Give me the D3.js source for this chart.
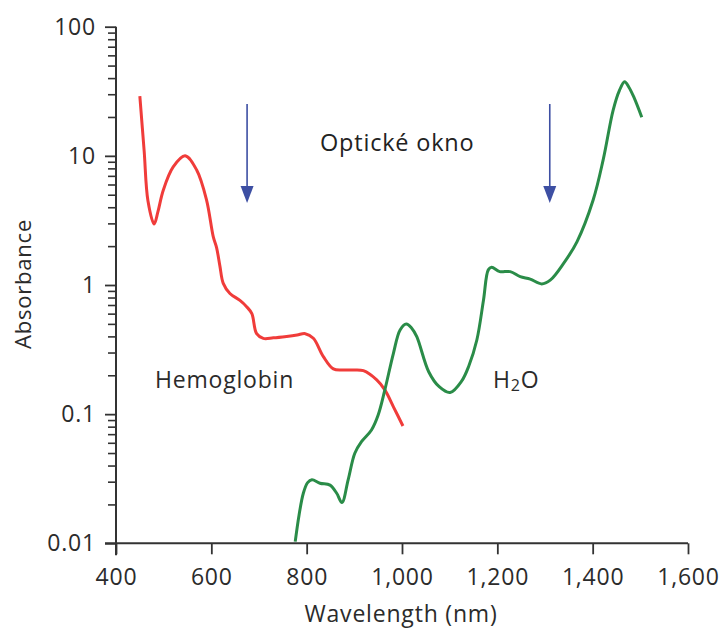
<!DOCTYPE html>
<html>
<head>
<meta charset="utf-8">
<script src="https://cdn.jsdelivr.net/npm/d3@7"></script>
<style>
  html, body { margin: 0; padding: 0; background: #fff; }
  svg { display: block; font-family: "Open Sans", "Noto Sans", sans-serif; }
  .axis path, .axis line { stroke: #333; }
  .axis text { fill: #2b2b2b; font-size: 23px; letter-spacing: 0.8px; font-family: "Open Sans", sans-serif; }
</style>
</head>
<body>
<svg id="chart" width="723" height="630"></svg>
<script>
// Absorption spectra: hemoglobin and water (log absorbance vs. wavelength)
const hemoglobinWavelength = [450, 459, 467, 480, 488, 499, 520, 545, 569, 590, 604, 611, 618, 625, 639, 660, 674, 685, 695, 709, 730, 758, 780, 797, 814, 835, 856, 878, 898, 919, 947, 964, 982, 1002];
const hemoglobinAbsorbance = [29, 11, 4.5, 2.97, 3.7, 5.4, 8.2, 10, 7.8, 4.55, 2.37, 1.95, 1.4, 1.03, 0.86, 0.76, 0.68, 0.6, 0.42, 0.386, 0.39, 0.4, 0.41, 0.42, 0.387, 0.279, 0.224, 0.22, 0.22, 0.217, 0.184, 0.154, 0.114, 0.081];

const waterWavelength = [776, 784, 793, 802, 811, 828, 849, 863, 874, 887, 901, 915, 936, 950, 964, 982, 996, 1009, 1020, 1031, 1056, 1078, 1101, 1125, 1140, 1157, 1171, 1181, 1188, 1205, 1227, 1248, 1269, 1293, 1311, 1339, 1367, 1401, 1422, 1443, 1456, 1467, 1476, 1486, 1503];
const waterAbsorbance = [0.0103, 0.0165, 0.0244, 0.0295, 0.031, 0.0292, 0.0282, 0.0244, 0.0207, 0.031, 0.0498, 0.0612, 0.0754, 0.0984, 0.154, 0.296, 0.449, 0.499, 0.465, 0.398, 0.213, 0.163, 0.147, 0.18, 0.235, 0.375, 0.766, 1.31, 1.37, 1.27, 1.27, 1.16, 1.11, 1.02, 1.09, 1.47, 2.16, 4.55, 9.3, 22.6, 32, 37.5, 34, 28.7, 19.9];

const arrowWavelengths = [675, 1310];
const xTicks = [400, 600, 800, 1000, 1200, 1400, 1600];
const yMajorTicks = [0.01, 0.1, 1, 10, 100];
const yTickLabels = ["0.01", "0.1", "1", "10", "100"];

const svg = d3.select("#chart");
const plotLeft = 116, plotRight = 688, plotTop = 26.7, plotBottom = 543.3;

const x = d3.scaleLinear().domain([400, 1600]).range([plotLeft, plotRight]);
const y = d3.scaleLog().domain([0.01, 100]).range([plotBottom, plotTop]);

// minor ticks 2..9 in each decade
const yMinorTicks = [];
for (let e = -2; e < 2; e++) {
  for (let m = 2; m < 10; m++) yMinorTicks.push(m * Math.pow(10, e));
}

// y axis: minor ticks
svg.append("g")
  .attr("class", "axis")
  .attr("transform", `translate(${plotLeft},0)`)
  .call(d3.axisLeft(y).tickValues(yMinorTicks).tickSize(8).tickFormat(""))
  .call(g => g.select(".domain").remove())
  .call(g => g.selectAll(".tick line").attr("stroke-width", 1.6));

// y axis: major ticks with labels
svg.append("g")
  .attr("class", "axis")
  .attr("transform", `translate(${plotLeft},0)`)
  .call(d3.axisLeft(y).tickValues(yMajorTicks).tickSize(11).tickPadding(9)
        .tickFormat((d, i) => yTickLabels[i]))
  .call(g => g.select(".domain").attr("d", `M0,${plotTop}V${plotBottom + 12}`).attr("stroke-width", 2).attr("fill", "none"))
  .call(g => g.selectAll(".tick line").attr("stroke-width", 1.8));

// x axis
svg.append("g")
  .attr("class", "axis")
  .attr("transform", `translate(0,${plotBottom})`)
  .call(d3.axisBottom(x).tickValues(xTicks).tickSize(11).tickPadding(14)
        .tickFormat(d3.format(",")))
  .call(g => g.select(".domain").attr("d", `M${plotLeft - 11},0H${plotRight}`).attr("stroke-width", 2).attr("fill", "none"))
  .call(g => g.selectAll(".tick line").attr("stroke-width", 1.8));

// axis titles
svg.append("text")
  .attr("x", 401).attr("y", 622)
  .attr("text-anchor", "middle")
  .attr("font-size", 23).attr("letter-spacing", "0.8px").attr("fill", "#2b2b2b")
  .text("Wavelength (nm)");

svg.append("text")
  .attr("transform", "translate(31,284) rotate(-90)")
  .attr("text-anchor", "middle")
  .attr("font-size", 22).attr("letter-spacing", "0.8px").attr("fill", "#2b2b2b")
  .text("Absorbance");

// spectra
const line = d3.line().curve(d3.curveCatmullRom.alpha(0.5));

const hbPoints = hemoglobinWavelength.map((w, i) => [x(w), y(hemoglobinAbsorbance[i])]);
const waterPoints = waterWavelength.map((w, i) => [x(w), y(waterAbsorbance[i])]);

svg.append("path")
  .attr("d", line(hbPoints))
  .attr("fill", "none").attr("stroke", "#f03c3a").attr("stroke-width", 3)
  .attr("stroke-linejoin", "round");

svg.append("path")
  .attr("d", line(waterPoints))
  .attr("fill", "none").attr("stroke", "#2a8c48").attr("stroke-width", 3)
  .attr("stroke-linejoin", "round");

// optical window arrows
const arrowColor = "#3d4fa3";
arrowWavelengths.forEach(w => {
  const ax = x(w);
  svg.append("line")
    .attr("x1", ax).attr("x2", ax).attr("y1", 104).attr("y2", 190)
    .attr("stroke", arrowColor).attr("stroke-width", 1.6);
  svg.append("path")
    .attr("d", `M${ax - 6.5},186L${ax + 6.5},186L${ax},203Z`)
    .attr("fill", arrowColor);
});

// labels
svg.append("text")
  .attr("x", 320).attr("y", 151)
  .attr("font-size", 23.5).attr("letter-spacing", "0.8px").attr("fill", "#222")
  .text("Optické okno");

svg.append("text")
  .attr("x", 155).attr("y", 388)
  .attr("font-size", 23).attr("letter-spacing", "0.8px").attr("fill", "#2b2b2b")
  .text("Hemoglobin");

const h2o = svg.append("text")
  .attr("x", 493).attr("y", 388)
  .attr("font-size", 23).attr("letter-spacing", "0.8px").attr("fill", "#2b2b2b");
h2o.append("tspan").text("H");
h2o.append("tspan").attr("font-size", 16).attr("dy", 3).text("2");
h2o.append("tspan").attr("dy", -3).text("O");
</script>
</body>
</html>
